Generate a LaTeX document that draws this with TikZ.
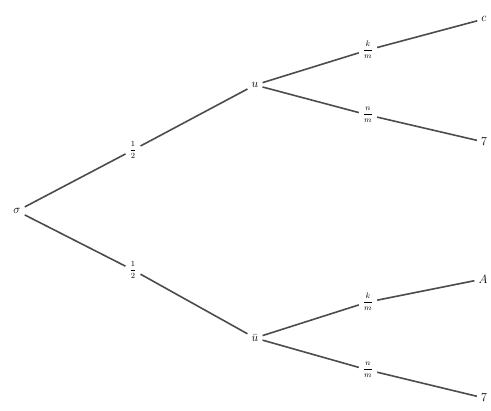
\documentclass[tikz,border=0pt]{standalone}
\begin{document}
\begin{tikzpicture}[x=1pt,y=-1pt,
  edge/.style={draw=black!70, line width=1.6pt},
  vert/.style={inner sep=4pt, font=\large},
  prob/.style={inner sep=4pt, font=\footnotesize}]
\useasboundingbox (0,0) rectangle (491,411);
\node[vert] (r) at (17,211) {$\sigma$};
\node[prob] (p1) at (133,150) {$\displaystyle\frac{1}{2}$};
\node[prob] (p2) at (133,270) {$\displaystyle\frac{1}{2}$};
\node[vert] (u) at (255,85) {$u$};
\node[vert] (ub) at (255,338) {$\bar{u}$};
\node[prob] (q1) at (368,50) {$\displaystyle\frac{k}{m}$};
\node[prob] (q2) at (368,115) {$\displaystyle\frac{n}{m}$};
\node[prob] (q3) at (368,302) {$\displaystyle\frac{k}{m}$};
\node[prob] (q4) at (368,370) {$\displaystyle\frac{n}{m}$};
\node[vert] (l1) at (484,19) {$c$};
\node[vert] (l2) at (484,142) {$7$};
\node[vert] (l3) at (483,279) {$A$};
\node[vert] (l4) at (484,398) {$7$};
\draw[edge] (r) -- (p1); \draw[edge] (p1) -- (u);
\draw[edge] (r) -- (p2); \draw[edge] (p2) -- (ub);
\draw[edge] (u) -- (q1); \draw[edge] (q1) -- (l1);
\draw[edge] (u) -- (q2); \draw[edge] (q2) -- (l2);
\draw[edge] (ub) -- (q3); \draw[edge] (q3) -- (l3);
\draw[edge] (ub) -- (q4); \draw[edge] (q4) -- (l4);
\end{tikzpicture}
\end{document}
